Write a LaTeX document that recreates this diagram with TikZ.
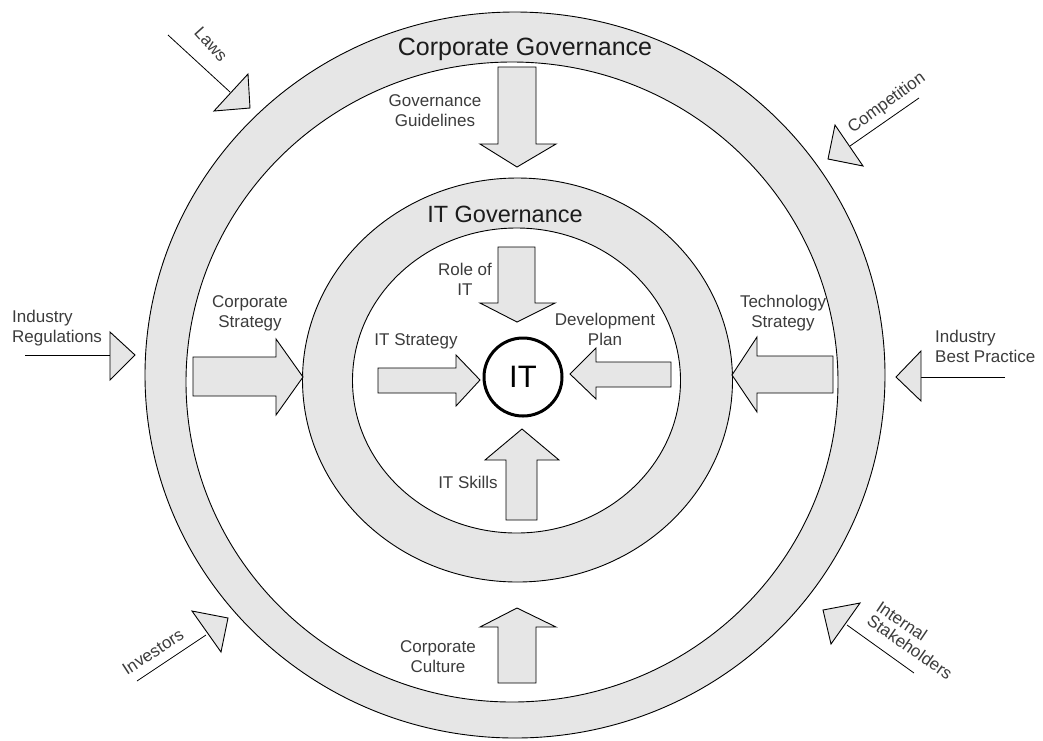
\documentclass[tikz,border=0pt]{standalone}
\usepackage{fontspec}
\setmainfont{Liberation Sans}
\begin{document}
\definecolor{ringfill}{RGB}{230,230,230}
\definecolor{labelgray}{RGB}{60,60,60}
\definecolor{titlegray}{RGB}{28,28,28}
\begin{tikzpicture}[x=1pt,y=-1pt,
  ringedge/.style={draw=black,line width=0.9pt},
  blockarrow/.style={draw=black,line width=0.9pt,fill=ringfill,line join=miter},
  inputtri/.style={draw=black,line width=0.9pt,fill=ringfill,line join=miter},
  inputline/.style={draw=black,line width=0.8pt},
  lbl/.style={inner sep=0pt,text=labelgray,align=center,font=\fontsize{17}{19.5}\selectfont},
  title/.style={inner sep=0pt,text=titlegray,anchor=base},
]
\useasboundingbox (0,0) rectangle (1043,740);
\fill[white] (0,0) rectangle (1043,740);

% corporate governance ring
\path[ringedge,fill=ringfill] (515,375) ellipse [x radius=370, y radius=363];
\path[ringedge,fill=white] (512,382) ellipse [x radius=326, y radius=320];
% IT governance ring
\path[ringedge,fill=ringfill] (517.5,380) ellipse [x radius=215, y radius=202];
\path[ringedge,fill=white] (516.5,380.5) ellipse [x radius=164, y radius=152.5];

% ring titles
\node[title,font=\fontsize{25}{30}\selectfont] (cgtitle) at (525,55) {Corporate Governance};
\node[title,font=\fontsize{23.5}{28}\selectfont] (ittitle) at (505,222) {IT Governance};

% central IT node
\node[circle,draw=black,line width=3pt,minimum size=78pt,inner sep=0pt,
      font=\fontsize{31}{36}\selectfont] (it) at (523,377) {IT};

% block arrows of the outer ring
\draw[blockarrow] (498,67) -- (536,67) -- (536,144) -- (556,144) -- (517,167) -- (480,144) -- (498,144) -- cycle;
\draw[blockarrow] (193,357) -- (276,357) -- (276,339) -- (303,377) -- (276,415) -- (276,396) -- (193,396) -- cycle;
\draw[blockarrow] (833,356) -- (757,356) -- (757,337) -- (732,375) -- (757,412) -- (757,393) -- (833,393) -- cycle;
\draw[blockarrow] (498,683) -- (498,627) -- (480,627) -- (517,608) -- (556,627) -- (536,627) -- (536,683) -- cycle;

% block arrows of the inner ring
\draw[blockarrow] (498,247) -- (535,247) -- (535,303) -- (555,303) -- (517,322) -- (480,303) -- (498,303) -- cycle;
\draw[blockarrow] (378,368) -- (456,368) -- (456,355) -- (480,380) -- (456,406) -- (456,393) -- (378,393) -- cycle;
\draw[blockarrow] (671,362) -- (596,362) -- (596,348) -- (570,374) -- (596,399) -- (596,387) -- (671,387) -- cycle;
\draw[blockarrow] (506,520) -- (506,460) -- (485,460) -- (522,429) -- (559,460) -- (537,460) -- (537,520) -- cycle;

% arrow labels (base = baseline of the last line)
\node[lbl,anchor=base] (gg) at (435,126) {Governance\\Guidelines};
\node[lbl,anchor=base] (cs) at (250,327) {Corporate\\Strategy};
\node[lbl,anchor=base] (ts) at (783,327) {Technology\\Strategy};
\node[lbl,anchor=base] (cc) at (438,672) {Corporate\\Culture};
\node[lbl,anchor=base] (role) at (465,295) {Role of\\IT};
\node[lbl,anchor=base] (its) at (416,345) {IT Strategy};
\node[lbl,anchor=base] (dev) at (605,345) {Development\\Plan};
\node[lbl,anchor=base] (skills) at (468,488) {IT Skills};

% external influences
\coordinate (lawsend) at (168,35);
\coordinate (lawshead) at (230,92);
\draw[inputline] (lawsend) -- (lawshead);
\draw[inputtri] (248,74) -- (250,108) -- (214,111) -- cycle;
\node[lbl,rotate=-48] (laws) at (211,44) {Laws};

\coordinate (compend) at (919,98);
\coordinate (comphead) at (850,146);
\draw[inputline] (compend) -- (comphead);
\draw[inputtri] (835,125) -- (828,159) -- (863,166) -- cycle;
\node[lbl,rotate=36] (comp) at (887,103) {Competition};

\coordinate (regend) at (25,355);
\coordinate (reghead) at (110,355);
\draw[inputline] (regend) -- (reghead);
\draw[inputtri] (110,332) -- (110,380) -- (135,355) -- cycle;
\node[lbl,align=left,anchor=base west] (reg) at (12,342) {Industry\\Regulations};

\coordinate (bpend) at (1005,377);
\coordinate (bphead) at (921,377);
\draw[inputline] (bpend) -- (bphead);
\draw[inputtri] (921,351) -- (921,401) -- (896,377) -- cycle;
\node[lbl,align=left,anchor=base west] (bp) at (935,362) {Industry\\Best Practice};

\coordinate (invend) at (137,681);
\coordinate (invhead) at (206,635);
\draw[inputline] (invend) -- (invhead);
\draw[inputtri] (192,611) -- (228,618) -- (221,652) -- cycle;
\node[lbl,rotate=33] (inv) at (153,652) {Investors};

\coordinate (stakeend) at (914,673);
\coordinate (stakehead) at (847,625);
\draw[inputline] (stakeend) -- (stakehead);
\draw[inputtri] (823,610) -- (860,603) -- (831,644) -- cycle;
\node[lbl,rotate=-34] (stakea) at (902,621) {Internal};
\node[lbl,rotate=-35] (stakeb) at (910,647) {Stakeholders};
\end{tikzpicture}
\end{document}
